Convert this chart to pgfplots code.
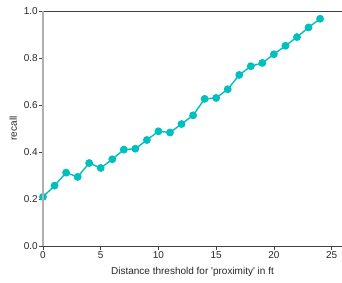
\documentclass[border=0pt]{standalone}
\usepackage{pgfplots}
\pgfplotsset{compat=1.18}
\usepackage{fontspec}
\setmainfont{Liberation Sans}
\definecolor{teal}{RGB}{0,191,191}
\definecolor{txt}{RGB}{38,38,38}
\definecolor{spinegray}{RGB}{176,176,176}
\definecolor{spinedark}{RGB}{64,64,64}
\begin{document}
\begin{tikzpicture}
\useasboundingbox (-43pt,-37pt) rectangle (299pt,246pt);
\begin{axis}[
  scale only axis,
  width=299pt, height=235pt,
  at={(0,0)}, anchor=south west,
  xmin=0, xmax=25.9, ymin=0, ymax=1,
  xtick={0,5,10,15,20,25},
  ytick={0,0.2,0.4,0.6,0.8,1.0},
  yticklabel style={/pgf/number format/.cd,fixed,fixed zerofill,precision=1},
  /pgf/number format/assume math mode=true,
  axis line style={draw=none},
  tick align=outside,
  major tick length=3.5pt,
  xtick pos=bottom, ytick pos=left,
  tick style={color=spinedark, line width=0.6pt},
  ticklabel style={font=\fontsize{10}{12}\selectfont, color=txt},
  every tick label/.append style={inner sep=1.5pt},
  xlabel={Distance threshold for \textquotesingle proximity\textquotesingle\ in ft},
  ylabel={recall},
  label style={font=\fontsize{10}{12}\selectfont, color=txt},
  xlabel style={yshift=-4pt},
  ylabel style={yshift=2pt},
  clip=false,
]
\addplot[color=teal, line width=1.4pt, mark=*, mark size=3.2pt, mark options={fill=teal, draw=teal}]
coordinates {
(0,0.209) (1,0.257) (2,0.312) (3,0.294) (4,0.353) (5,0.332) (6,0.369)
(7,0.410) (8,0.414) (9,0.451) (10,0.488) (11,0.483) (12,0.519) (13,0.556)
(14,0.626) (15,0.630) (16,0.667) (17,0.728) (18,0.765) (19,0.779) (20,0.816)
(21,0.852) (22,0.889) (23,0.930) (24,0.967)
};
\end{axis}
\draw[spinedark, line width=0.9pt] (0,235pt) -- (300pt,235pt);
\draw[spinedark, line width=0.9pt] (0,0) -- (300pt,0);
\draw[spinegray, line width=1.6pt] (0,0) -- (0,235pt);
\end{tikzpicture}
\end{document}
